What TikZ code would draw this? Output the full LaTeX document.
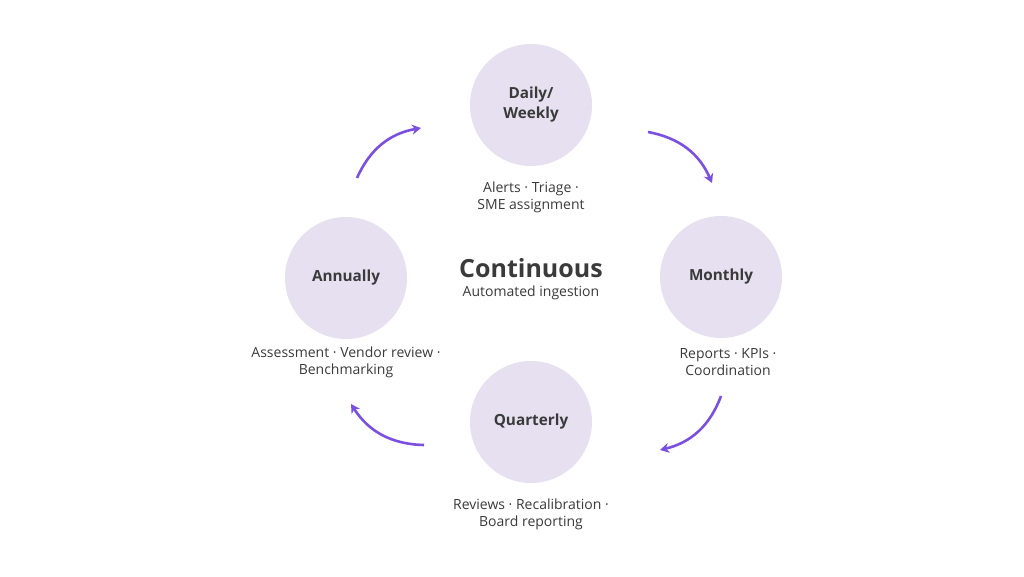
\documentclass[tikz,border=0pt]{standalone}
\usepackage{fontspec}
\setmainfont{Open Sans}
\usetikzlibrary{arrows.meta}
\definecolor{circ}{HTML}{E6E0F0}
\definecolor{arr}{HTML}{7B4FE0}
\definecolor{txt}{HTML}{3A3A3A}
\begin{document}
\begin{tikzpicture}[x=1pt,y=-1pt,
  phase/.style={circle,fill=circ,minimum size=122pt,inner sep=0pt,align=center,text=txt,font=\fontsize{15.3}{20}\selectfont\bfseries},
  lbl/.style={align=center,text=txt,font=\fontsize{14}{17}\selectfont},
  cyc/.style={draw=arr,line width=2.6pt,-{Stealth[length=9pt,width=10pt]},bend left=28}]
\useasboundingbox (0,0) rectangle (1024,576);
\node[phase] (d) at (531,105) {Daily/\\Weekly};
\node[phase] (m) at (721,277) {Monthly};
\node[phase] (q) at (531,422) {Quarterly};
\node[phase] (a) at (346,278) {Annually};
\node[lbl] (dl) at (531,197) {Alerts · Triage ·\\SME assignment};
\node[lbl] (ml) at (728,362) {Reports · KPIs ·\\Coordination};
\node[lbl] (ql) at (531,514) {Reviews · Recalibration ·\\Board reporting};
\node[lbl] (al) at (346,362) {Assessment · Vendor review ·\\Benchmarking};
\node[text=txt,font=\fontsize{25}{30}\selectfont\bfseries] (c) at (531,268) {Continuous};
\node[lbl] (cl) at (531,293) {Automated ingestion};
\coordinate (a1) at (357,178); \coordinate (a2) at (421,128);
\coordinate (b1) at (648,132); \coordinate (b2) at (712,183);
\coordinate (c1) at (721,396); \coordinate (c2) at (660,450);
\coordinate (e1) at (424,445); \coordinate (e2) at (351,404);
\draw[cyc] (a1) to (a2);
\draw[cyc] (b1) to (b2);
\draw[cyc] (c1) to (c2);
\draw[cyc] (e1) to (e2);
\end{tikzpicture}
\end{document}
